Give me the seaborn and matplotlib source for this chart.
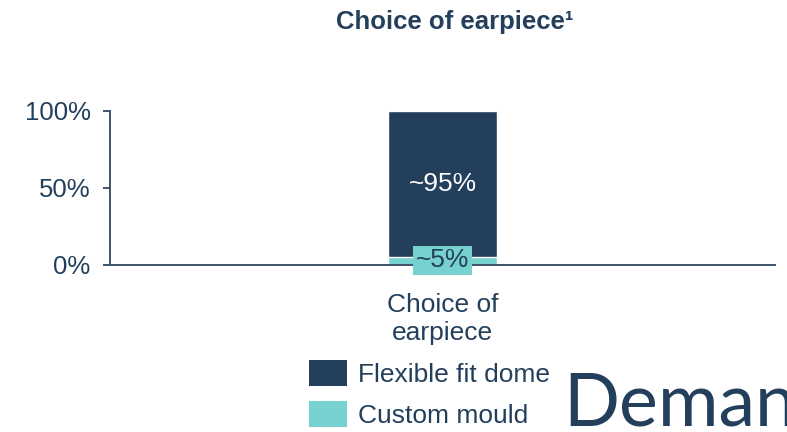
import matplotlib
matplotlib.use("Agg")
import matplotlib.pyplot as plt
import seaborn as sns
import pandas as pd
from matplotlib.patches import Patch

# data
categories = ["Choice of\nearpiece"]
flexible_fit_dome = [95]
custom_mould = [5]
series_names = ["Flexible fit dome", "Custom mould"]
value_labels = ["~95%", "~5%"]
ytick_values = [0, 50, 100]
ytick_labels = ["0%", "50%", "100%"]

NAVY = "#243F5B"
TEAL = "#76D1CF"

sns.set_theme(style="white")
plt.rcParams["font.family"] = ["Liberation Sans", "DejaVu Sans"]

df = pd.DataFrame({
    "category": categories,
    "flex": flexible_fit_dome,
    "custom": custom_mould,
})
df["total"] = df["flex"] + df["custom"]

fig = plt.figure(figsize=(7.87, 4.32), dpi=100)
ax = fig.add_axes([0.1398, 0.3866, 0.845, 0.3565])

# stacked: full bar in navy, custom mould drawn over its base
sns.barplot(data=df, x="category", y="total", color=NAVY, width=0.165,
            saturation=1, ax=ax)
sns.barplot(data=df, x="category", y="custom", color=TEAL, width=0.165,
            saturation=1, ax=ax)

ax.set_xlim(-0.5, 0.5)
ax.set_ylim(0, 100)
ax.set_xlabel("")
ax.set_ylabel("")

# segment labels
for i, row in df.iterrows():
    ax.text(i, row["custom"] + row["flex"] / 2, value_labels[0], ha="center",
            va="center", color="white", fontsize=19)
    ax.text(i, 3, value_labels[1], ha="center", va="center", color=NAVY,
            fontsize=19, zorder=5,
            bbox=dict(boxstyle="square,pad=0.1", fc=TEAL, ec="none"))

sns.despine(ax=ax, top=True, right=True)
for side in ["left", "bottom"]:
    ax.spines[side].set_color("#3F5468")
    ax.spines[side].set_linewidth(1.4)

ax.set_yticks(ytick_values)
ax.set_yticklabels(ytick_labels)
ax.tick_params(axis="y", length=5, width=1.4, color="#3F5468", pad=9,
               labelsize=18.5, labelcolor=NAVY, left=True)
ax.tick_params(axis="x", length=0, pad=20, labelsize=19, labelcolor=NAVY)
for lbl in ax.get_xticklabels():
    lbl.set_linespacing(1.2)

fig.text(0.578, 0.949, "Choice of earpiece\u00b9", ha="center", va="center",
         fontsize=18.5, fontweight="bold", color=NAVY)

handles = [Patch(facecolor=NAVY, edgecolor="none"),
           Patch(facecolor=TEAL, edgecolor="none")]
fig.legend(handles, series_names, loc="upper left",
           bbox_to_anchor=(0.392, 0.166), frameon=False,
           fontsize=19, handlelength=1.46, handleheight=1.1,
           handletextpad=0.42, labelspacing=0.55, borderpad=0,
           borderaxespad=0, labelcolor=NAVY)

# company wordmark, cut off at the right edge as in the reference
fig.text(0.716, 0.016, "Demant", ha="left", va="baseline", fontsize=53,
         family=["Lato", "DejaVu Sans"], fontweight="normal", color=NAVY)

fig.savefig("out.png", dpi=100)
